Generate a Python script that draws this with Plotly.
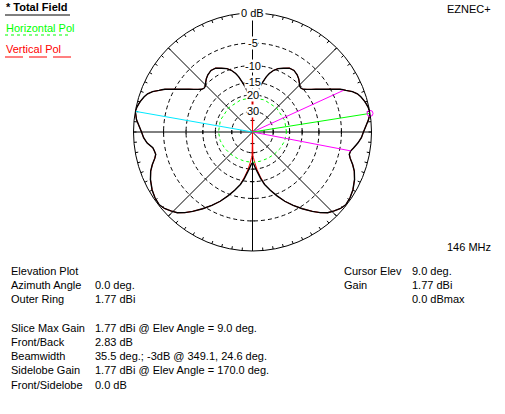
import numpy as np
import plotly.graph_objects as go

W, H = 505, 414

# Elevation angle (deg, counter-clockwise from the horizon) and field in dB relative to the 1.77 dBi maximum
total_ang = [0, 3, 6, 9, 12, 15, 18, 20, 22, 24, 25, 26, 28, 30, 32, 34, 36, 38, 40, 42, 44, 46, 49, 52, 56, 60,
             64, 68, 71, 74, 76, 78, 80, 82, 84, 86, 88, 90,
             92, 94, 96, 98, 100, 102, 104, 106, 109, 112, 116, 120, 124, 128, 131, 134, 136, 138, 140, 142, 144,
             146, 148, 150, 152, 154, 155, 156, 158, 160, 162, 165, 168, 170, 174, 177, 180,
             183, 186, 189, 191, 193, 195, 198, 201, 205, 210, 214, 218, 221, 224, 227, 230, 233, 237, 241, 245,
             249, 253, 257, 260, 263, 266, 268, 270,
             272, 274, 277, 280, 283, 287, 291, 295, 299, 303, 307, 310, 313, 316, 319, 322, 326, 330, 335, 339,
             342, 345, 347, 349, 351, 354, 357, 360]
total_db = [-1.2, -0.8, -0.35, 0.0, -0.1, -0.36, -0.75, -1.1, -1.7, -2.6, -3.0, -3.43, -4.6, -5.7, -6.7, -7.6,
            -8.5, -9.3, -10.0, -10.3, -10.2, -9.7, -9.0, -8.5, -8.1, -8.2,
            -8.9, -9.5, -10.3, -11.5, -12.7, -14.3, -15.8, -17.6, -19.3, -20.3, -21.0, -21.4,
            -21.0, -20.3, -19.3, -17.6, -15.8, -14.3, -12.7, -11.5, -10.3, -9.5, -8.9, -8.2, -8.1, -8.5, -9.0,
            -9.7, -10.2, -10.3, -10.0, -9.3, -8.5,
            -7.6, -6.7, -5.7, -4.6, -3.43, -3.0, -2.6, -1.7, -1.1, -0.75, -0.36, -0.1, 0.0, -0.35, -0.8, -1.2,
            -1.5, -2.0, -2.83, -3.0, -3.1, -2.8, -2.1, -1.5, -0.95, -0.45, -0.2, -0.1, -0.35, -0.8, -1.3, -2.1,
            -3.1, -4.5, -6.0, -7.6,
            -9.5, -11.5, -13.6, -15.8, -18.5, -21.0, -22.5, -23.2,
            -22.5, -21.0, -18.5, -15.8, -13.6, -11.5, -9.5, -7.6, -6.0, -4.5, -3.1, -2.1, -1.3, -0.8, -0.35, -0.1,
            -0.2, -0.45, -0.95, -1.5,
            -2.1, -2.8, -3.1, -3.0, -2.6, -2.0, -1.5, -1.2]

vert_ang = [0, 3, 6, 9, 12, 15, 18, 20, 22, 24, 25, 26, 28, 30, 32, 34, 36, 38, 40, 42, 44, 46, 49, 52, 56, 60,
            64, 68, 71, 74, 76, 78, 80, 82, 84, 86, 88, 89, 90, 91,
            92, 94, 96, 98, 100, 102, 104, 106, 109, 112, 116, 120, 124, 128, 131, 134, 136, 138, 140, 142, 144,
            146, 148, 150, 152, 154, 155, 156, 158, 160, 162, 165, 168, 170, 174, 177, 180,
            183, 186, 189, 191, 193, 195, 198, 201, 205, 210, 214, 218, 221, 224, 227, 230, 233, 237, 241, 245,
            249, 253, 257, 260, 263, 266, 268, 269, 270, 271,
            272, 274, 277, 280, 283, 287, 291, 295, 299, 303, 307, 310, 313, 316, 319, 322, 326, 330, 335, 339,
            342, 345, 347, 349, 351, 354, 357, 360]
vert_db = [-1.2, -0.8, -0.35, 0.0, -0.1, -0.36, -0.75, -1.1, -1.7, -2.6, -3.0, -3.43, -4.6, -5.7, -6.7, -7.6,
           -8.5, -9.3, -10.0, -10.3, -10.2, -9.7, -9.0, -8.5, -8.1, -8.2,
           -8.9, -9.5, -10.3, -11.5, -12.7, -14.3, -15.8, -17.6, -19.3, -19.8, -19.6, -19.6, -99.0, -19.6,
           -19.6, -19.8, -19.3, -17.6, -15.8, -14.3, -12.7, -11.5, -10.3, -9.5, -8.9, -8.2, -8.1, -8.5, -9.0,
           -9.7, -10.2, -10.3, -10.0, -9.3, -8.5,
           -7.6, -6.7, -5.7, -4.6, -3.43, -3.0, -2.6, -1.7, -1.1, -0.75, -0.36, -0.1, 0.0, -0.35, -0.8, -1.2,
           -1.5, -2.0, -2.83, -3.0, -3.1, -2.8, -2.1, -1.5, -0.95, -0.45, -0.2, -0.1, -0.35, -0.8, -1.3, -2.1,
           -3.1, -4.5, -6.0, -7.6,
           -9.5, -11.5, -13.6, -16.5, -19.5, -23.5, -26.5, -28.0, -99.0, -28.0,
           -26.5, -23.5, -19.5, -16.5, -13.6, -11.5, -9.5, -7.6, -6.0, -4.5, -3.1, -2.1, -1.3, -0.8, -0.35, -0.1,
           -0.2, -0.45, -0.95, -1.5,
           -2.1, -2.8, -3.1, -3.0, -2.6, -2.0, -1.5, -1.2]

horiz_ang = [0, 20, 45, 70, 90, 110, 135, 160, 180, 195, 210, 225, 240, 255, 270, 285, 300, 315, 330, 345, 360]
horiz_db = [-21.5, -21.4, -21.5, -21.4, -21.4, -21.4, -21.5, -21.4, -21.5, -21.8, -22.4, -23.0, -23.4, -23.5,
            -23.4, -23.5, -23.4, -23.0, -22.4, -21.8, -21.5]

# Cursor readouts
cursor_elev = 9.0
cursor_db = 0.0
bw_angles = [24.6, 349.1]
bw_db = -3.0
sidelobe_elev = 170.0
sidelobe_db = 0.0

ring_db = [-5, -10, -15, -20, -30]
ring_labels = ["-5", "-10", "-15", "20", "30"]
axis_tick_db = [-5, -10, -15, -20, -30, -40]


def arrl(db):
    """ARRL log scale: radius shrinks by a factor 0.89 for every 2 dB."""
    return 0.89 ** (-np.asarray(db, dtype=float) / 2.0)


R_PX = 119.0
dom_x = [133.5 / W, 371.5 / W]
dom_y = [1 - 251.0 / H, 1 - 13.0 / H]
FONT = "Liberation Sans, Arial, sans-serif"

fig = go.Figure()

# outer-ring tick marks every 5 degrees
tk_r, tk_t = [], []
for a in range(0, 360, 5):
    tk_r += [1.0, 1.0 - 3.0 / R_PX, None]
    tk_t += [a, a, None]
fig.add_trace(go.Scatterpolar(r=tk_r, theta=tk_t, mode="lines",
                              line=dict(color="black", width=1), hoverinfo="skip"))

# patterns
fig.add_trace(go.Scatterpolar(r=arrl(vert_db), theta=vert_ang, mode="lines",
                              line=dict(color="#FF0000", width=1), hoverinfo="skip"))
fig.add_trace(go.Scatterpolar(r=arrl(horiz_db), theta=horiz_ang, mode="lines",
                              line=dict(color="#00FF00", width=1, dash="3px,3px"), hoverinfo="skip"))
fig.add_trace(go.Scatterpolar(r=arrl(total_db), theta=total_ang, mode="lines",
                              line=dict(color="black", width=1.4), hoverinfo="skip"))

# sidelobe, beamwidth and cursor lines
fig.add_trace(go.Scatterpolar(r=[0, float(arrl(sidelobe_db))], theta=[sidelobe_elev, sidelobe_elev],
                              mode="lines", line=dict(color="#00E8FF", width=1), hoverinfo="skip"))
for a in bw_angles:
    fig.add_trace(go.Scatterpolar(r=[0, float(arrl(bw_db))], theta=[a, a], mode="lines",
                                  line=dict(color="#FF00FF", width=1), hoverinfo="skip"))
fig.add_trace(go.Scatterpolar(r=[0, float(arrl(cursor_db))], theta=[cursor_elev, cursor_elev],
                              mode="lines", line=dict(color="#00FF00", width=1), hoverinfo="skip"))
fig.add_trace(go.Scatterpolar(r=[float(arrl(cursor_db))], theta=[cursor_elev], mode="markers",
                              marker=dict(symbol="circle-open", size=6, color="#FF00FF",
                                          line=dict(width=1, color="#FF00FF")),
                              hoverinfo="skip"))

# small ticks where the rings cross the four axis arms (drawn on an overlay x/y frame)
d = 2.0 / R_PX
tx, ty = [], []
for r in arrl(axis_tick_db):
    r = float(r)
    tx += [r, r, None, -r, -r, None, -d, d, None, -d, d, None]
    ty += [-d, d, None, -d, d, None, r, r, None, -r, -r, None]
fig.add_trace(go.Scatter(x=tx, y=ty, mode="lines", line=dict(color="black", width=1),
                         hoverinfo="skip", xaxis="x", yaxis="y"))

ann = []
# ring labels on the vertical axis
ann.append(dict(x=0, y=1.0, xref="x", yref="y", text="0 dB", showarrow=False,
                bgcolor="white", borderpad=1, font=dict(family=FONT, size=11, color="black")))
for db, lab in zip(ring_db, ring_labels):
    ann.append(dict(x=0, y=float(arrl(db)), xref="x", yref="y", text=lab, showarrow=False,
                    bgcolor="white", borderpad=0, font=dict(family=FONT, size=11, color="black")))


def txt(x, y, s, color="black", anchor="left", bold=False):
    if bold:
        s = "<b>" + s + "</b>"
    ann.append(dict(x=x / W, y=1 - y / H, xref="paper", yref="paper", text=s, showarrow=False,
                    xanchor=anchor, yanchor="middle", borderpad=0,
                    font=dict(family=FONT, size=11, color=color)))


txt(5, 7, "* Total Field", bold=True)
txt(5, 28, "Horizontal Pol", color="#00FF00")
txt(5, 49, "Vertical Pol", color="#FF0000")
txt(492, 9, "EZNEC+", anchor="right")
txt(492, 246.5, "146 MHz", anchor="right")

left_rows = [("Elevation Plot", ""), ("Azimuth Angle", "0.0 deg."), ("Outer Ring", "1.77 dBi")]
left_rows2 = [("Slice Max Gain", "1.77 dBi @ Elev Angle = 9.0 deg."),
              ("Front/Back", "2.83 dB"),
              ("Beamwidth", "35.5 deg.; -3dB @ 349.1, 24.6 deg."),
              ("Sidelobe Gain", "1.77 dBi @ Elev Angle = 170.0 deg."),
              ("Front/Sidelobe", "0.0 dB")]
for i, (a, b) in enumerate(left_rows):
    y = 271 + 14.2 * i
    txt(10, y, a)
    if b:
        txt(94, y, b)
for i, (a, b) in enumerate(left_rows2):
    y = 327.8 + 14.2 * i
    txt(10, y, a)
    txt(94, y, b)

right_rows = [("Cursor Elev", "9.0 deg."), ("Gain", "1.77 dBi"), ("", "0.0 dBmax")]
for i, (a, b) in enumerate(right_rows):
    y = 271 + 14.2 * i
    if a:
        txt(343, y, a)
    txt(411, y, b)

# legend underlines
shapes = [
    dict(type="line", xref="paper", yref="paper", x0=5 / W, x1=70 / W, y0=1 - 15 / H, y1=1 - 15 / H,
         line=dict(color="black", width=1)),
    dict(type="line", xref="paper", yref="paper", x0=5 / W, x1=70 / W, y0=1 - 35 / H, y1=1 - 35 / H,
         line=dict(color="#00FF00", width=1, dash="3px,3px")),
    dict(type="line", xref="paper", yref="paper", x0=5 / W, x1=71 / W, y0=1 - 57 / H, y1=1 - 57 / H,
         line=dict(color="#FF0000", width=1, dash="18px,6px")),
]

fig.update_layout(
    width=W, height=H, margin=dict(l=0, r=0, t=0, b=0),
    paper_bgcolor="white", plot_bgcolor="rgba(0,0,0,0)", showlegend=False,
    xaxis=dict(domain=dom_x, range=[-1, 1], visible=False, fixedrange=True),
    yaxis=dict(domain=dom_y, range=[-1, 1], visible=False, fixedrange=True),
    polar=dict(
        domain=dict(x=dom_x, y=dom_y),
        bgcolor="rgba(0,0,0,0)",
        radialaxis=dict(range=[0, 1], tickmode="array", tickvals=[float(v) for v in arrl(ring_db)],
                        showticklabels=False, ticks="", showline=False, angle=90,
                        gridcolor="black", gridwidth=1, griddash="4px,3px"),
        angularaxis=dict(rotation=0, direction="counterclockwise", tickmode="linear", tick0=0, dtick=45,
                         showticklabels=False, ticks="", gridcolor="black", gridwidth=1,
                         showline=True, linecolor="black", linewidth=1),
    ),
    annotations=ann,
    shapes=shapes,
)

fig.write_html("out.html")
